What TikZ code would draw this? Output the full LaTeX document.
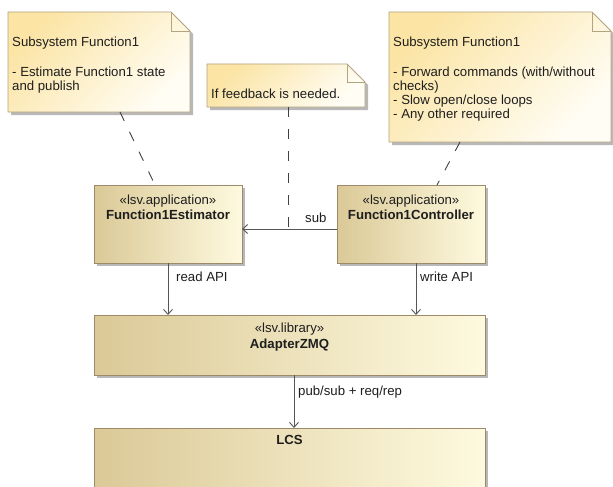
\documentclass[tikz,border=0pt]{standalone}
\usepackage{fontspec}
\setmainfont{Liberation Sans}
\usetikzlibrary{arrows.meta,calc}

\definecolor{boxL}{HTML}{DBC997}
\definecolor{boxR}{HTML}{FEFADF}
\definecolor{boxLine}{HTML}{9C8A68}
\definecolor{noteL}{HTML}{FBE4A4}
\definecolor{noteR}{HTML}{FFFDF4}
\definecolor{noteLine}{HTML}{B3A37F}
\definecolor{wire}{HTML}{555555}
\definecolor{ink}{HTML}{1E1E1E}
\definecolor{shadowc}{HTML}{B8B8B8}

\tikzset{
  txt/.style={font=\fontsize{13.2}{14.1}\selectfont, text=ink, inner sep=0pt, align=left},
  boldtxt/.style={txt, font=\fontsize{13.2}{14.1}\selectfont\bfseries},
  frame/.style={draw=none, inner sep=0pt, outer sep=0pt, anchor=north west},
  wirestyle/.style={draw=wire, line width=0.9},
  dep/.style={wirestyle, -{Straight Barb[length=5,width=9]}},
  anchorline/.style={draw=ink!85, line width=0.9, dash pattern=on 10 off 12},
}

% classifier box: name, x, y, width, height
\newcommand\drawclassbox[5]{%
  \fill[shadowc] (#2+3,#3+3) rectangle ++(#4,#5);
  \shade[left color=boxL, right color=boxR, draw=boxLine, line width=0.9]
    (#2,#3) rectangle ++(#4,#5);
  \node[frame, minimum width=#4, minimum height=#5] (#1) at (#2,#3) {};
}

% note with folded corner: name, x, y, width, height, fold
\newcommand\drawnote[6]{%
  \fill[shadowc] (#2+3,#3+3) -- ++(#4-#6,0) -- ++(#6,#6) -- ++(0,#5-#6)
    -- ++(-#4,0) -- cycle;
  \shade[left color=noteL, right color=noteR, shading angle=45,
         draw=noteLine, line width=0.9]
    (#2,#3) -- ++(#4-#6,0) -- ++(#6,#6) -- ++(0,#5-#6) -- ++(-#4,0) -- cycle;
  \draw[noteLine, line width=0.9] (#2+#4-#6,#3) -- ++(0,#6) -- ++(#6,0);
  \node[frame, minimum width=#4, minimum height=#5] (#1) at (#2,#3) {};
}

\begin{document}
\begin{tikzpicture}[x=1pt, y=-1pt]
\useasboundingbox (0,0) rectangle (613,487);
\clip (0,0) rectangle (613,487);
\fill[white] (0,0) rectangle (613,487);

% notes
\drawnote{n1}{8}{12}{182}{100}{19}
\drawnote{n2}{389}{12}{222}{130}{19}
\drawnote{n3}{207}{64}{158}{43}{18}

\node[txt, anchor=north west] (n1text) at (12,36.3)
  {Subsystem Function1\\[16.2pt]- Estimate Function1 state\\and publish};
\node[txt, anchor=north west] (n2text) at (393,36.3)
  {Subsystem Function1\\[16.2pt]- Forward commands (with/without\\checks)\\- Slow open/close loops\\- Any other required};
\node[txt, anchor=base west] (n3text) at (211,98) {If feedback is needed.};

% components
\drawclassbox{est}{94}{185}{148}{78}
\drawclassbox{ctl}{337}{185}{148}{78}
\drawclassbox{adp}{94}{315}{391}{60}
\drawclassbox{lcs}{94}{428}{391}{80}

\node[txt, anchor=base] (estS) at ([yshift=-19]est.north) {«lsv.application»};
\node[boldtxt, anchor=base] (estN) at ([yshift=-34.5]est.north) {Function1Estimator};
\node[txt, anchor=base] (ctlS) at ([yshift=-19]ctl.north) {«lsv.application»};
\node[boldtxt, anchor=base] (ctlN) at ([yshift=-34.5]ctl.north) {Function1Controller};
\node[txt, anchor=base] (adpS) at ([yshift=-17]adp.north) {«lsv.library»};
\node[boldtxt, anchor=base] (adpN) at ([yshift=-33.5]adp.north) {AdapterZMQ};
\node[boldtxt, anchor=base] (lcsN) at ([yshift=-16]lcs.north) {LCS};

% connectors
\coordinate (subA) at ([yshift=-44]ctl.north west);
\coordinate (subB) at (est.east |- subA);
\draw[dep] (subA) -- (subB);
\node[txt, anchor=base west] (subL) at (305,222) {sub};

\draw[dep] (est.south) -- (est.south |- adp.north);
\node[txt, anchor=base west] (readL) at (176,281) {read API};

\draw[dep] ([xshift=5]ctl.south) -- ([xshift=5]ctl.south |- adp.north);
\node[txt, anchor=base west] (writeL) at (420,281) {write API};

\draw[dep] ([xshift=4.5]adp.south) -- ([xshift=4.5]adp.south |- lcs.north);
\node[txt, anchor=base west] (pubL) at (298,395) {pub/sub + req/rep};

% note anchors
\draw[anchorline] ([xshift=21]n1.south) -- ([xshift=-13]est.north);
\draw[anchorline] ([xshift=-40]n2.south) -- ([xshift=26]ctl.north);
\draw[anchorline] ([xshift=2]n3.south) -- ([xshift=2]n3.south |- subA);
\end{tikzpicture}
\end{document}
